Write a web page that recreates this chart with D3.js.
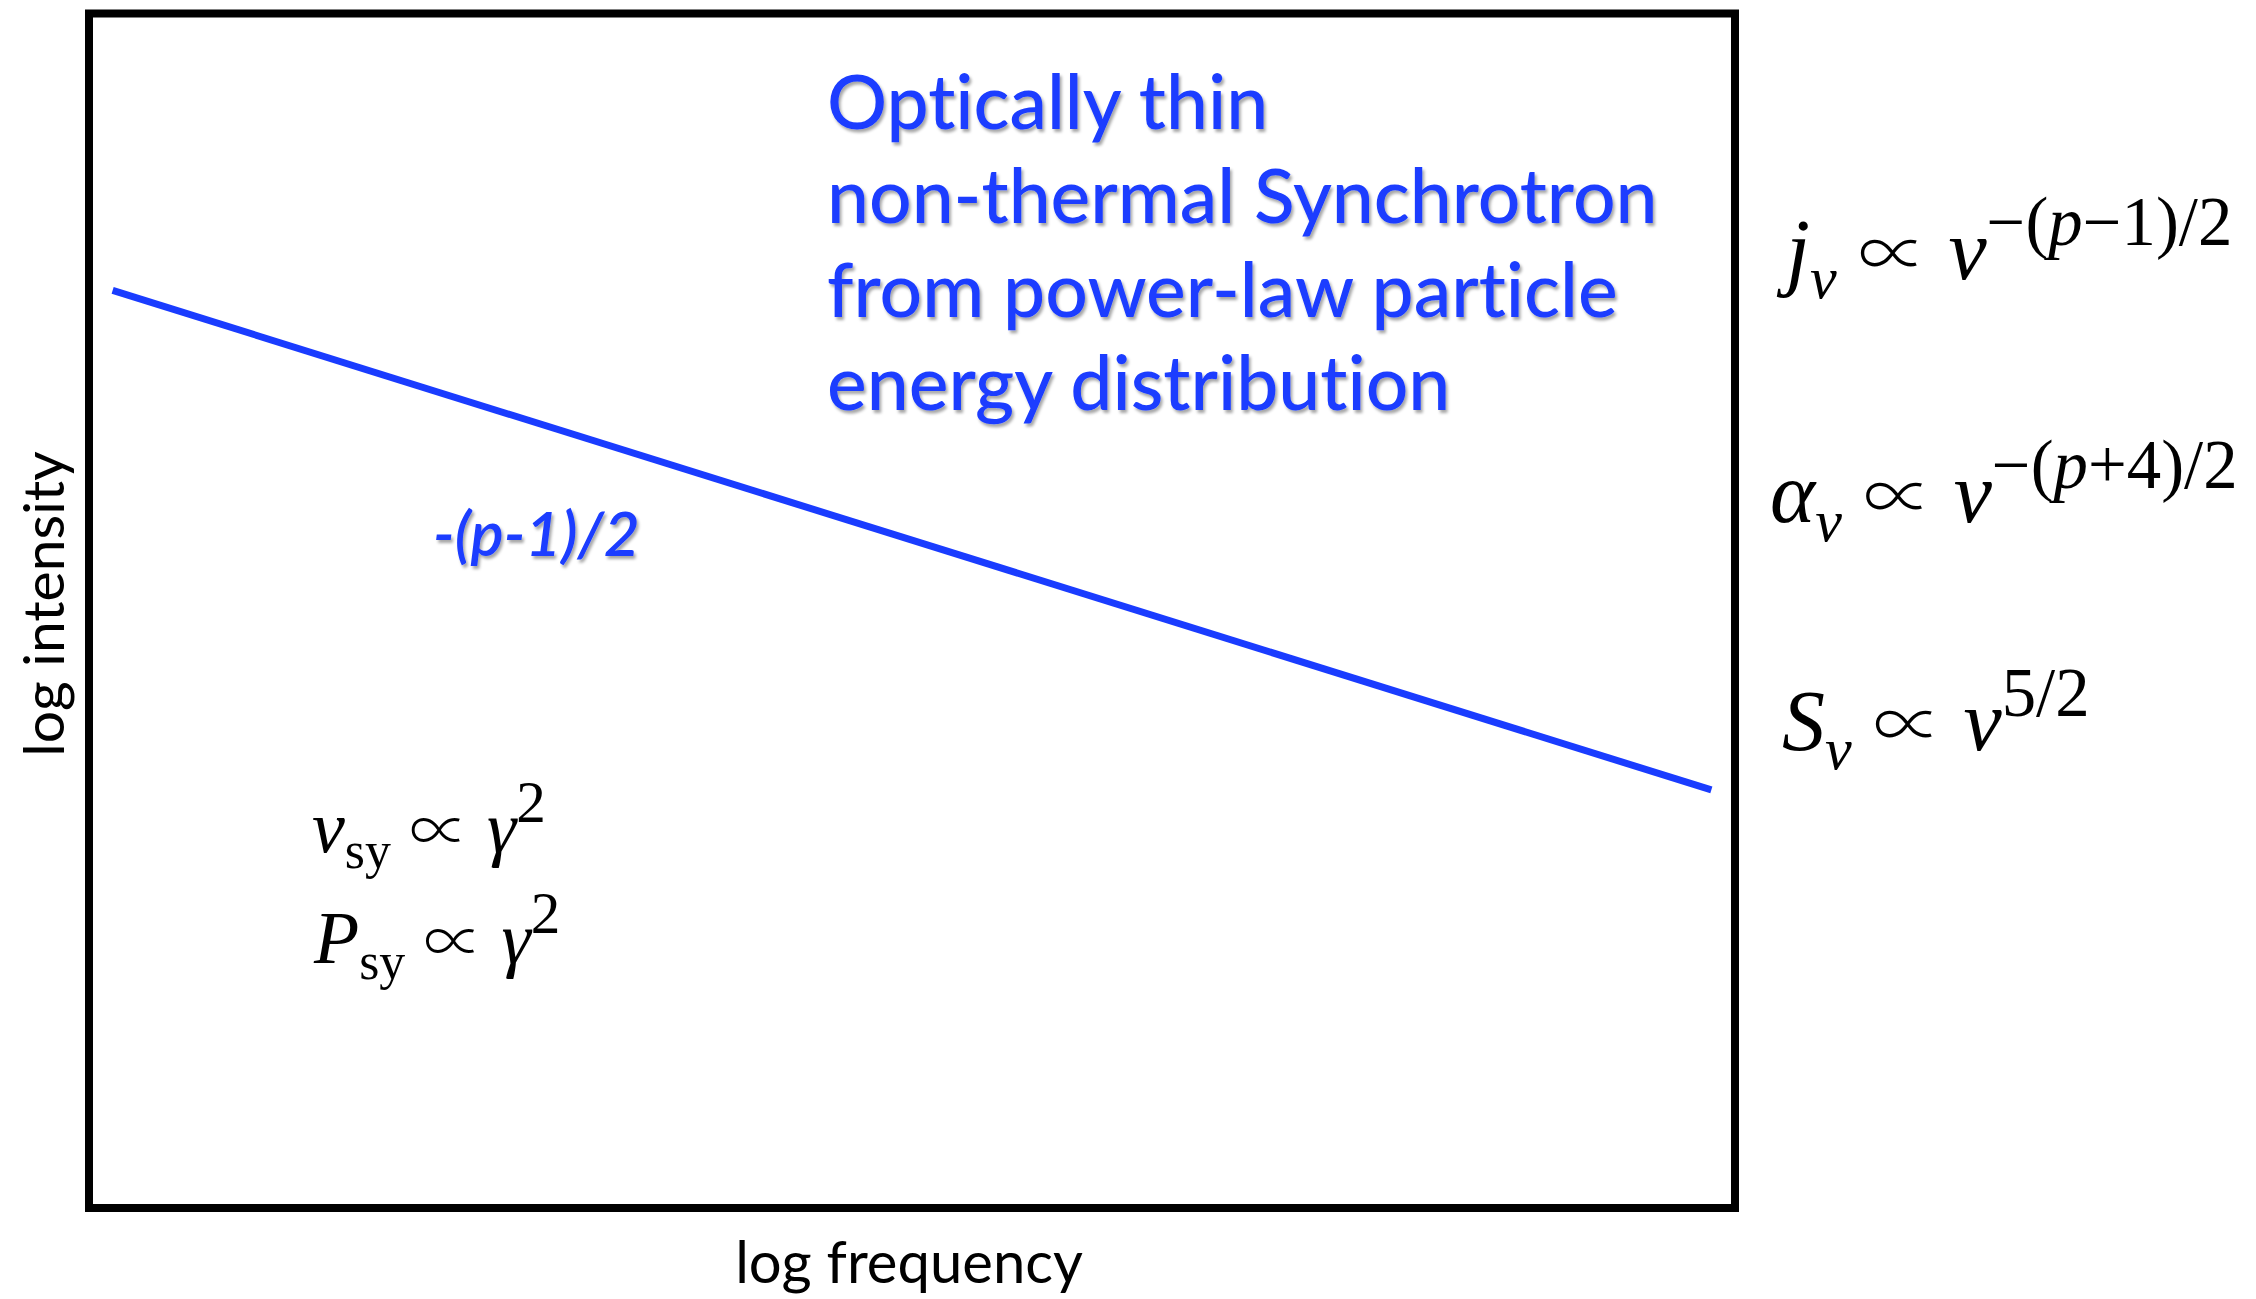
<!DOCTYPE html>
<html>
<head>
<meta charset="utf-8">
<script src="https://cdn.jsdelivr.net/npm/d3@7"></script>
<style>
  html, body { margin: 0; padding: 0; background: #fff; }
  svg { display: block; }
  text { font-variant-ligatures: none; font-feature-settings: "liga" 0, "clig" 0; }
</style>
</head>
<body>
<svg id="chart" width="2256" height="1299"></svg>
<script>
// ---------------- data ----------------
const spectrumLogFreq = [0.012, 0.988];        // normalised log frequency
const spectrumLogInt  = [0.770, 0.349];        // normalised log intensity
const xAxisTitle = "log frequency";
const yAxisTitle = "log intensity";
const slopeLabel = "-(p-1)/2";
const titleLines = ["Optically thin", "non-thermal Synchrotron", "from power-law particle", "energy distribution"];
// formula segments: [text, style(i=italic,r=roman,s=symbol), position(b=base, sub, sup)]
const formulaJ = [["j","i","b"],["ν","i","sub"],[" ","r","b"],["∝","s","b"],[" ","r","b"],["ν","i","b"],["−(","r","sup"],["p","i","sup"],["−1)/2","r","sup"]];
const formulaA = [["α","i","b"],["ν","i","sub"],[" ","r","b"],["∝","s","b"],[" ","r","b"],["ν","i","b"],["−(","r","sup"],["p","i","sup"],["+4)/2","r","sup"]];
const formulaS = [["S","i","b"],["ν","i","sub"],[" ","r","b"],["∝","s","b"],[" ","r","b"],["ν","i","b"],["5/2","r","sup"]];
const formulaNu = [["ν","i","b"],["sy","r","sub"],[" ","r","b"],["∝","s","b"],[" ","r","b"],["γ","i","b"],["2","r","sup"]];
const formulaP  = [["P","i","b"],["sy","r","sub"],[" ","r","b"],["∝","s","b"],[" ","r","b"],["γ","i","b"],["2","r","sup"]];

// ---------------- layout ----------------
const svg = d3.select("#chart");
const frame = {x0: 89, y0: 13.5, x1: 1735, y1: 1208};
const inner = {x0: 93, y0: 17.5, x1: 1731, y1: 1204};

const x = d3.scaleLinear().domain([0, 1]).range([inner.x0, inner.x1]);
const y = d3.scaleLinear().domain([0, 1]).range([inner.y1, inner.y0]);

const BLUE = "#1a3cff";
const SANS = "Lato, 'Open Sans', sans-serif";
const SERIF = "'Liberation Serif', 'DejaVu Serif', serif";
const SYMB = "'DejaVu Sans ExtraLight', 'Noto Sans CJK JP', 'Liberation Serif', serif";

const defs = svg.append("defs");
const f = defs.append("filter").attr("id", "shadow").attr("x", "-5%").attr("y", "-20%").attr("width", "120%").attr("height", "150%");
f.append("feDropShadow").attr("dx", 2).attr("dy", 3).attr("stdDeviation", 1.8)
  .attr("flood-color", "#000").attr("flood-opacity", 0.35);

// frame
svg.append("rect")
  .attr("x", frame.x0).attr("y", frame.y0)
  .attr("width", frame.x1 - frame.x0).attr("height", frame.y1 - frame.y0)
  .attr("fill", "none").attr("stroke", "#000").attr("stroke-width", 8);

// spectrum line
const lineData = spectrumLogFreq.map((v, i) => [v, spectrumLogInt[i]]);
svg.append("path")
  .datum(lineData)
  .attr("d", d3.line().x(d => x(d[0])).y(d => y(d[1])))
  .attr("fill", "none").attr("stroke", BLUE).attr("stroke-width", 7);

// axis titles
svg.append("text")
  .attr("x", 909).attr("y", 1283)
  .attr("text-anchor", "middle")
  .attr("font-family", SANS).attr("font-size", 58)
  .attr("fill", "#000").text(xAxisTitle);

svg.append("text")
  .attr("transform", "translate(64,604) rotate(-90)")
  .attr("text-anchor", "middle")
  .attr("font-family", SANS).attr("font-size", 57)
  .attr("fill", "#000").text(yAxisTitle);

// title block
const title = svg.append("text")
  .attr("font-family", SANS).attr("font-size", 75).attr("font-weight", 500)
  .attr("fill", BLUE).attr("filter", "url(#shadow)");
const titleBase = [129, 223, 317, 410];
titleLines.forEach((t, i) => {
  title.append("tspan").attr("x", 827).attr("y", titleBase[i]).text(t);
});

// slope label
svg.append("text")
  .attr("x", 433).attr("y", 556)
  .attr("font-family", SANS).attr("font-size", 62).attr("font-style", "italic").attr("font-weight", 600)
  .attr("fill", BLUE).attr("filter", "url(#shadow)")
  .text(slopeLabel);

// math formula helper
function formula(segs, px, py, size) {
  const t = svg.append("text").attr("x", px).attr("y", py)
    .attr("font-family", SERIF).attr("font-size", size).attr("fill", "#000");
  let cur = 0;
  segs.forEach(([txt, st, pos]) => {
    let off = 0, fs = size;
    if (pos === "sub") { off = 0.22 * size; fs = 0.7 * size; }
    if (pos === "sup") { off = -0.40 * size; fs = 0.8 * size; }
    const ts = t.append("tspan")
      .attr("dy", off - cur)
      .attr("font-size", st === "s" ? size * 0.8 : fs)
      .attr("font-style", st === "i" ? "italic" : "normal")
      .style("white-space", "pre")
      .text(txt);
    if (st === "s") ts.attr("font-family", SYMB).attr("font-weight", 200);
    cur = off;
  });
  return t;
}

formula(formulaJ, 1786, 279, 86);
formula(formulaA, 1770, 522, 86);
formula(formulaS, 1782, 750, 86);
formula(formulaNu, 312, 852, 74);
formula(formulaP, 314, 963, 74);
</script>
</body>
</html>
